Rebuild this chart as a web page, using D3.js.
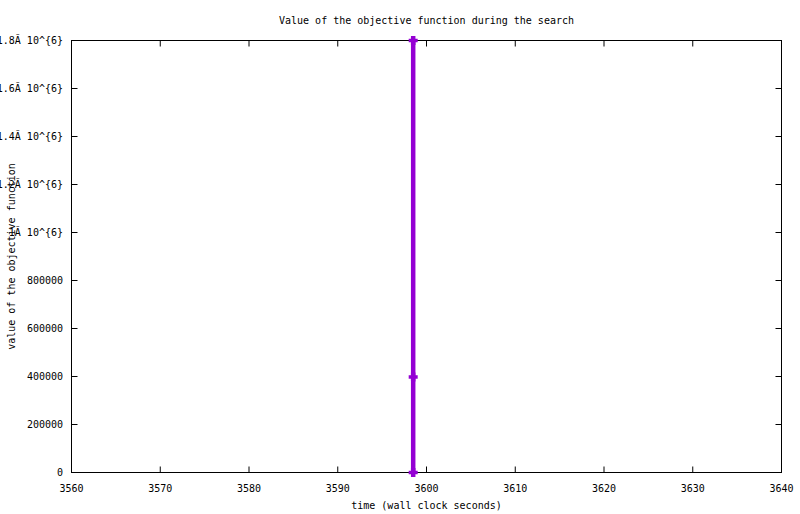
<!DOCTYPE html>
<html>
<head>
<meta charset="utf-8">
<script src="https://cdn.jsdelivr.net/npm/d3@7"></script>
<style>
  html, body { margin: 0; padding: 0; background: #fff; }
  svg { display: block; }
  text { font-family: "DejaVu Sans Mono", monospace; font-size: 10px; fill: #000; }
</style>
</head>
<body>
<svg id="chart" width="800" height="514"></svg>
<script>
// ---- data ----
const times = [3598.5, 3598.5, 3598.5];
const objectiveValues = [0, 398000, 1800000];
const xTicks = [3560, 3570, 3580, 3590, 3600, 3610, 3620, 3630, 3640];
const yTicks = [0, 200000, 400000, 600000, 800000, 1000000, 1200000, 1400000, 1600000, 1800000];
const yTickLabels = ["0", "200000", "400000", "600000", "800000",
  "1Ă 10^{6}", "1.2Ă 10^{6}", "1.4Ă 10^{6}", "1.6Ă 10^{6}", "1.8Ă 10^{6}"];
const titleText = "Value of the objective function during the search";
const xLabelText = "time (wall clock seconds)";
const yLabelText = "value of the objective function";

// ---- layout ----
const W = 800, H = 514;
const L = 71.5, R = 781.5, T = 40.5, B = 472.5;
const svg = d3.select("#chart");

const x = d3.scaleLinear().domain([3560, 3640]).range([L, R]);
const y = d3.scaleLinear().domain([0, 1800000]).range([B, T]);

// inward ticks, mirrored on all sides
const tickLen = 6;
const g = svg.append("g");
yTicks.forEach(v => {
  g.append("line").attr("x1", L).attr("x2", L + tickLen).attr("y1", y(v)).attr("y2", y(v)).attr("stroke", "#000");
  g.append("line").attr("x1", R).attr("x2", R - tickLen).attr("y1", y(v)).attr("y2", y(v)).attr("stroke", "#000");
});
xTicks.forEach(v => {
  g.append("line").attr("x1", x(v)).attr("x2", x(v)).attr("y1", B).attr("y2", B - tickLen).attr("stroke", "#000");
  g.append("line").attr("x1", x(v)).attr("x2", x(v)).attr("y1", T).attr("y2", T + tickLen).attr("stroke", "#000");
});

// tick labels
yTicks.forEach((v, i) => {
  svg.append("text").attr("x", L - 8.5).attr("y", y(v)).attr("dy", "0.35em")
    .attr("text-anchor", "end").text(yTickLabels[i]);
});
xTicks.forEach(v => {
  svg.append("text").attr("x", x(v)).attr("y", B + 16)
    .attr("dy", "0.35em").attr("text-anchor", "middle").text(String(v));
});

// border
svg.append("rect").attr("x", L).attr("y", T).attr("width", R - L).attr("height", B - T)
  .attr("fill", "none").attr("stroke", "#000");

// titles
svg.append("text").attr("x", (L + R) / 2).attr("y", 20).attr("dy", "0.35em")
  .attr("text-anchor", "middle").text(titleText);
svg.append("text").attr("x", (L + R) / 2).attr("y", 505).attr("dy", "0.35em")
  .attr("text-anchor", "middle").text(xLabelText);
svg.append("text").attr("transform", `translate(11,${(T + B) / 2}) rotate(-90)`)
  .attr("dy", "0.35em").attr("text-anchor", "middle").text(yLabelText);

// data line + points
const color = "#9400d3";
const pts = times.map((t, i) => [t, objectiveValues[i]]);
const line = d3.line().x(d => x(d[0])).y(d => y(d[1]));
svg.append("path").datum(pts).attr("d", line)
  .attr("fill", "none").attr("stroke", color).attr("stroke-width", 4.5);
const ps = 4.5;
pts.forEach(d => {
  const cx = x(d[0]), cy = y(d[1]);
  svg.append("line").attr("x1", cx - ps).attr("x2", cx + ps).attr("y1", cy).attr("y2", cy)
    .attr("stroke", color).attr("stroke-width", 3.5);
  svg.append("line").attr("x1", cx).attr("x2", cx).attr("y1", cy - ps).attr("y2", cy + ps)
    .attr("stroke", color).attr("stroke-width", 4.5);
});
</script>
</body>
</html>
